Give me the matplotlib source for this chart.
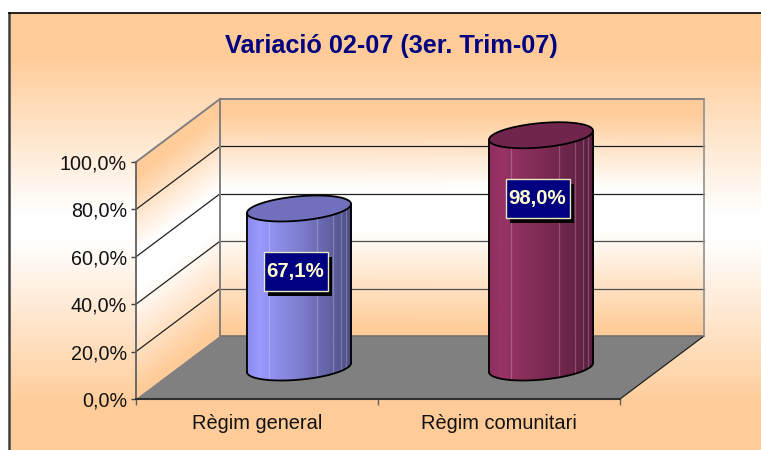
import numpy as np
import matplotlib
matplotlib.use("Agg")
import matplotlib.pyplot as plt
from matplotlib.colors import LinearSegmentedColormap
from matplotlib.patches import Polygon, Rectangle

plt.rcParams["font.family"] = ["Liberation Sans", "DejaVu Sans"]

title = "Variació 02-07 (3er. Trim-07)"
categories = ["Règim general", "Règim comunitari"]
values = [67.1, 98.0]
value_labels = ["67,1%", "98,0%"]
yticks = [0, 20, 40, 60, 80, 100]
ytick_labels = ["0,0%", "20,0%", "40,0%", "60,0%", "80,0%", "100,0%"]

W, H = 761, 450
LEFT, RIGHT, BOTTOM, TOP = 136, 620, 399, 162
PX_X = (RIGHT - LEFT) / 2
PX_Y = (BOTTOM - TOP) / 100
DX = 84 / PX_X   # depth of the 3d box in data units
DY = 63 / PX_Y

PEACH = "#FFCC99"
panel_cmap = LinearSegmentedColormap.from_list(
    "panel", [(0, PEACH), (0.1, PEACH), (0.47, "#FFFFFF"), (0.53, "#FFFFFF"), (0.92, PEACH), (1, PEACH)])
wall_cmap = LinearSegmentedColormap.from_list(
    "wall", [(0, PEACH), (0.06, PEACH), (0.38, "#FFFFFF"), (0.55, "#FFFFFF"), (0.97, PEACH), (1, PEACH)])
blue_cmap = LinearSegmentedColormap.from_list(
    "blue", [(0, "#8C8CEC"), (0.12, "#9999FF"), (0.5, "#7F7FD0"), (1, "#4E4E85")])
red_cmap = LinearSegmentedColormap.from_list(
    "red", [(0, "#8E2F5E"), (0.12, "#993366"), (0.5, "#7F2B55"), (1, "#5A1E3E")])
bar_cmaps = [blue_cmap, red_cmap]
top_colors = ["#7070BD", "#70254D"]

fig = plt.figure(figsize=(W / 100, H / 100), dpi=100, facecolor="white")

# background panel
bg = fig.add_axes([0, 0, 1, 1], zorder=0)
bg.imshow(np.linspace(0, 1, 256).reshape(-1, 1), cmap=panel_cmap, aspect="auto",
          extent=[9, W, 440, 13], zorder=1)
bg.add_patch(Rectangle((9, 440), W - 9, 10, color=PEACH, zorder=1))
bg.plot([9, 9], [H, 13], color="#404040", lw=1.8, zorder=2)
bg.plot([9, W], [13, 13], color="black", lw=1.2, zorder=2)
bg.set_xlim(0, W)
bg.set_ylim(H, 0)
bg.axis("off")

ax = fig.add_axes([LEFT / W, 1 - BOTTOM / H, (RIGHT - LEFT) / W, (BOTTOM - TOP) / H], zorder=1)
ax.patch.set_alpha(0)
ax.set_xlim(0, 2)
ax.set_ylim(0, 100)

# back wall and side wall with the same gradient
v = np.linspace(1, 0, 60)
cc = np.column_stack([1 - v, 1 - v])
xx = np.array([[DX, 2 + DX]] * 60)
yy = np.column_stack([v * 100 + DY, v * 100 + DY])
ax.pcolormesh(xx, yy, cc, cmap=wall_cmap, shading="gouraud", vmin=0, vmax=1, clip_on=False, zorder=1)
xx = np.array([[0, DX]] * 60)
yy = np.column_stack([v * 100, v * 100 + DY])
ax.pcolormesh(xx, yy, cc, cmap=wall_cmap, shading="gouraud", vmin=0, vmax=1, clip_on=False, zorder=1)

# floor
ax.add_patch(Polygon([(0, 0), (2, 0), (2 + DX, DY), (DX, DY)], closed=True, facecolor="#808080",
                     edgecolor="none", clip_on=False, zorder=2))
ax.plot([DX, 2 + DX], [DY, DY], color="#6E6E6E", lw=1.2, clip_on=False, zorder=2)
ax.plot([2, 2 + DX], [0, DY], color="#202020", lw=0.9, clip_on=False, zorder=2)

# grid lines
for t in yticks[1:]:
    col = "#808080" if t == 100 else ("#505050" if t < 60 else "#202020")
    lw = 1.4 if t == 100 else 0.9
    ax.plot([DX, 2 + DX], [t + DY, t + DY], color=col, lw=lw, clip_on=False, zorder=2)
    ax.plot([0, DX], [t, t + DY], color="#808080" if t == 100 else "#202020", lw=lw, clip_on=False, zorder=2)
ax.plot([DX, DX], [DY, 100 + DY], color="#808080", lw=1.4, clip_on=False, zorder=2)
ax.plot([2 + DX, 2 + DX], [DY, 100 + DY], color="#909090", lw=1.2, clip_on=False, zorder=2)

# cylinders
A = 52 / PX_X
B = 12.2 / PX_Y
TILT = 4.5 / PX_Y
theta = np.linspace(np.pi, 0, 80)
for i, val in enumerate(values):
    cx = i + 0.5 + DX / 2
    base = DY / 2
    top = base + val
    ex = cx + A * np.cos(theta)
    front = TILT * np.cos(theta) - B * np.sin(theta)
    bx = np.column_stack([ex, ex])
    by = np.column_stack([base + front, top + front])
    bc = np.column_stack([(np.cos(theta) + 1) / 2] * 2)
    ax.pcolormesh(bx, by, bc, cmap=bar_cmaps[i], shading="gouraud", vmin=0, vmax=1,
                  clip_on=False, zorder=3)
    # facets of the cylinder
    for f in [-0.58, 0.34, 0.66, 0.8, 0.9]:
        th = np.arccos(f)
        ax.plot([cx + A * f] * 2,
                [base + TILT * f - B * np.sin(th), top + TILT * f - B * np.sin(th)],
                color="white", alpha=0.22, lw=0.9, clip_on=False, zorder=3.1)
    ax.plot(ex, base + front, color="black", lw=1.3, clip_on=False, zorder=3.2)
    ax.plot([ex[0], ex[0]], [base - TILT, top - TILT], color="black", lw=1.3, clip_on=False, zorder=3.2)
    ax.plot([ex[-1], ex[-1]], [base + TILT, top + TILT], color="black", lw=1.3, clip_on=False, zorder=3.2)
    t_all = np.linspace(0, 2 * np.pi, 160)
    ring = np.column_stack([cx + A * np.cos(t_all), top + TILT * np.cos(t_all) + B * np.sin(t_all)])
    ax.add_patch(Polygon(ring, closed=True, facecolor=top_colors[i], edgecolor="black", lw=1.3,
                         clip_on=False, zorder=3.3))

    # value label with its shadow
    lx = cx - 3.5 / PX_X
    ly = top - 63 / PX_Y
    bw, bh = 64 / PX_X, 39 / PX_Y
    ax.add_patch(Rectangle((lx - bw / 2 + 4 / PX_X, ly - bh / 2 - 5 / PX_Y), bw, bh, facecolor="black",
                           edgecolor="none", clip_on=False, zorder=4))
    ax.add_patch(Rectangle((lx - bw / 2, ly - bh / 2), bw, bh, facecolor="#000080",
                           edgecolor="#E8E8C0", lw=1, clip_on=False, zorder=4.1))
    ax.text(lx, ly, value_labels[i], color="#FFFFCC", fontsize=14.7, fontweight="bold",
            ha="center", va="center", zorder=4.2)

# axes
for s in ["top", "right"]:
    ax.spines[s].set_visible(False)
ax.spines["left"].set_color("#606060")
ax.spines["left"].set_linewidth(1.3)
ax.spines["bottom"].set_color("#303030")
ax.spines["bottom"].set_linewidth(1.5)
ax.spines["left"].set_zorder(2.5)
ax.spines["bottom"].set_zorder(2.5)
ax.set_yticks(yticks)
ax.set_yticklabels(ytick_labels, fontsize=14.2, color="#111111")
ax.set_xticks([0, 1, 2])
ax.set_xticklabels([])
ax.set_xticks([0.5, 1.5], minor=True)
ax.set_xticklabels(categories, minor=True, fontsize=14.4, color="#111111")
ax.tick_params(axis="x", which="minor", length=0, pad=11)
ax.tick_params(axis="x", which="major", length=4, width=1, color="#606060")
ax.tick_params(axis="y", length=3.5, width=1, color="#404040", pad=3)

fig.text(391.5 / W, 1 - 46 / H, title, color="#000080", fontsize=18.2, fontweight="bold",
         ha="center", va="center", zorder=5)

fig.savefig("out.png", dpi=100)
